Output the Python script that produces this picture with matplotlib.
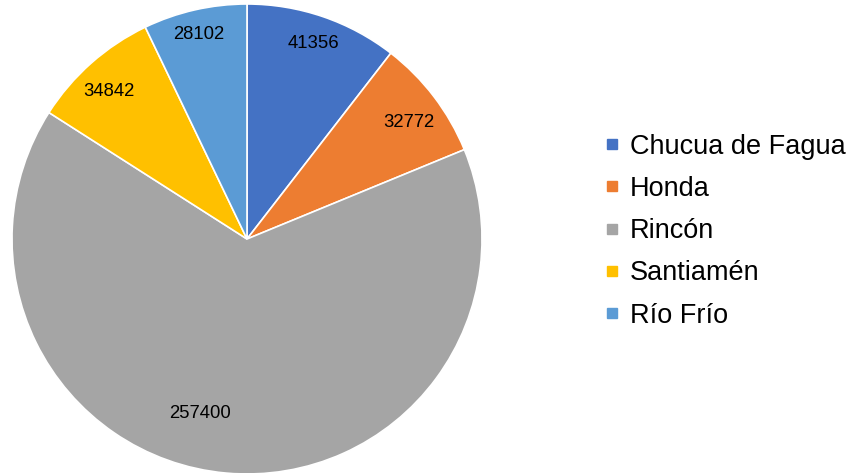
import numpy as np
import matplotlib
matplotlib.use('Agg')
import matplotlib.pyplot as plt
from matplotlib.lines import Line2D

plt.rcParams['font.family'] = ['Liberation Sans', 'DejaVu Sans']

categories = ['Chucua de Fagua', 'Honda', 'Rincón', 'Santiamén', 'Río Frío']
values = [41356, 32772, 257400, 34842, 28102]
colors = ['#4472C4', '#ED7D31', '#A5A5A5', '#FFC000', '#5B9BD5']

# label placement (fraction of radius, angle shift in degrees)
label_r = [0.88, 0.85, 0.77, 0.86, 0.895]
label_shift = [0, -1.5, -10, 1.5, 0.5]

fig = plt.figure(figsize=(8.53, 4.73), dpi=100)
ax = fig.add_axes([12 / 853, (473 - 239 - 235) / 473, 470 / 853, 470 / 473])

wedges, _ = ax.pie(values, colors=colors, startangle=90, counterclock=False,
                   radius=1, wedgeprops=dict(edgecolor='white', linewidth=1.2))

for w, v, r, s in zip(wedges, values, label_r, label_shift):
    ang = np.deg2rad((w.theta1 + w.theta2) / 2 + s)
    ax.text(r * np.cos(ang), r * np.sin(ang), str(v), ha='center', va='center',
            fontsize=13.3, color='black')

ax.set_xlim(-1, 1)
ax.set_ylim(-1, 1)
ax.set_aspect('equal')
ax.axis('off')

handles = [Line2D([0], [0], marker='s', linestyle='none', markersize=7.5,
                  markerfacecolor=c, markeredgecolor=c) for c in colors]
fig.legend(handles, categories, loc='center left',
           bbox_to_anchor=(604 / 853, 1 - 231 / 473), frameon=False,
           fontsize=19.5, handlelength=0.6, handletextpad=0.35,
           labelspacing=0.6, borderpad=0, borderaxespad=0)

fig.savefig('out.png', dpi=100)
